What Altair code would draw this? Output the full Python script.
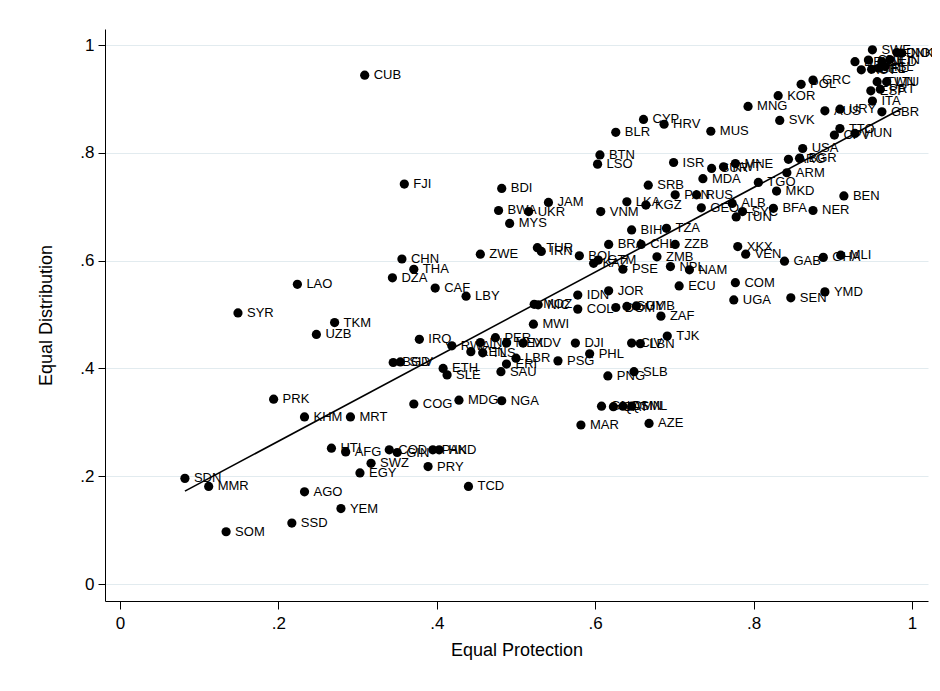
import altair as alt
import pandas as pd

codes = ["SWE","NOR","DNK","FIN","NLD","CHE","DEU","AUT","BEL","IRL","ISL","GRC","POL","TWN","LTU","ESP","PRT","ITA","GBR","URY","AUS","TTO","CPV","HUN","KOR","MNG","SVK","CUB","CYP","HRV","BLR","MUS","USA","BTN","LSO","ISR","SUR","KWT","MNE","ARG","BGR","ARM","MDA","TGO","MKD","SRB","PAN","RUS","BEN","NER","FJI","BDI","LKA","KGZ","GEO","ALB","SYC","TUN","BFA","JAM","BWA","UKR","VNM","MYS","BIH","TZA","BRA","CHL","ZZB","XKX","VEN","GAB","GHA","MLI","ZWE","TUR","IRN","BOL","KAZ","GTM","ZMB","NPL","NAM","PSE","CHN","THA","DZA","LAO","CAF","LBY","JOR","IDN","ECU","COM","UGA","SEN","YMD","SYR","MOZ","NIC","COL","DOM","GUY","GMB","ZAF","TKM","UZB","MWI","IRQ","RWA","KEN","IND","TLS","PER","MEX","MDV","TJK","DJI","CIV","LBN","BGD","SLV","ETH","SLE","ERI","LBR","SAU","PSG","PHL","PNG","SLB","PRK","KHM","MRT","COG","MDG","NGA","GNQ","QAT","OMN","SML","MAR","AZE","HTI","AFG","COD","GIN","PAK","HND","SWZ","PRY","EGY","SDN","MMR","TCD","AGO","YEM","SSD","SOM"]

protection = [0.950,0.987,0.981,0.972,0.962,0.945,0.928,0.936,0.949,0.958,0.966,0.875,0.860,0.956,0.968,0.948,0.960,0.950,0.962,0.909,0.890,0.909,0.902,0.928,0.831,0.793,0.833,0.309,0.661,0.687,0.626,0.746,0.862,0.606,0.603,0.699,0.747,0.762,0.777,0.844,0.858,0.842,0.736,0.806,0.829,0.667,0.701,0.728,0.914,0.875,0.359,0.482,0.640,0.664,0.734,0.773,0.786,0.778,0.825,0.541,0.478,0.516,0.607,0.492,0.646,0.690,0.617,0.658,0.701,0.780,0.790,0.839,0.888,0.910,0.455,0.527,0.532,0.580,0.598,0.604,0.678,0.695,0.719,0.635,0.356,0.371,0.344,0.224,0.398,0.437,0.617,0.578,0.706,0.777,0.775,0.847,0.890,0.149,0.523,0.528,0.578,0.626,0.640,0.652,0.683,0.271,0.248,0.522,0.378,0.419,0.443,0.455,0.458,0.474,0.488,0.509,0.691,0.575,0.646,0.657,0.345,0.354,0.408,0.413,0.488,0.500,0.481,0.553,0.593,0.616,0.649,0.194,0.233,0.291,0.371,0.428,0.482,0.608,0.623,0.635,0.646,0.582,0.668,0.267,0.285,0.340,0.350,0.395,0.403,0.317,0.389,0.303,0.082,0.112,0.440,0.233,0.279,0.217,0.134]

distribution = [0.991,0.985,0.986,0.973,0.969,0.972,0.969,0.954,0.955,0.957,0.960,0.935,0.927,0.932,0.932,0.915,0.918,0.896,0.876,0.881,0.878,0.845,0.833,0.836,0.906,0.886,0.860,0.944,0.862,0.853,0.838,0.840,0.808,0.796,0.779,0.782,0.771,0.774,0.780,0.788,0.790,0.763,0.752,0.745,0.729,0.740,0.722,0.722,0.720,0.693,0.742,0.734,0.709,0.703,0.698,0.706,0.691,0.681,0.697,0.708,0.693,0.691,0.691,0.669,0.657,0.660,0.630,0.630,0.630,0.626,0.612,0.599,0.606,0.610,0.612,0.624,0.617,0.609,0.595,0.601,0.607,0.589,0.583,0.584,0.603,0.584,0.568,0.556,0.549,0.534,0.544,0.536,0.553,0.559,0.527,0.531,0.542,0.503,0.519,0.518,0.510,0.513,0.515,0.516,0.497,0.485,0.463,0.482,0.454,0.442,0.431,0.448,0.429,0.457,0.447,0.447,0.460,0.447,0.447,0.446,0.411,0.412,0.400,0.388,0.408,0.419,0.394,0.414,0.427,0.386,0.394,0.343,0.310,0.310,0.334,0.341,0.340,0.330,0.329,0.330,0.330,0.295,0.298,0.252,0.245,0.249,0.244,0.249,0.249,0.224,0.218,0.206,0.196,0.181,0.181,0.171,0.140,0.113,0.097]

tick_values = [0, 0.2, 0.4, 0.6, 0.8, 1]
tick_labels = ["0", ".2", ".4", ".6", ".8", "1"]

df = pd.DataFrame({"code": codes, "x": protection, "y": distribution})

label_expr = " : ".join(
    [f"datum.value == {v} ? '{l}'" for v, l in zip(tick_values, tick_labels)]
) + " : ''"

FONT = "Liberation Sans"
xscale = alt.Scale(domain=[-0.0189, 1.0202], nice=False, zero=False)
yscale = alt.Scale(domain=[-0.0315, 1.0297], nice=False, zero=False)

xenc = alt.X("x:Q", scale=xscale, title="Equal Protection",
             axis=alt.Axis(values=tick_values, labelExpr=label_expr, grid=False,
                           tickSize=8, labelPadding=6, titlePadding=10))
yenc = alt.Y("y:Q", scale=yscale, title="Equal Distribution",
             axis=alt.Axis(values=tick_values, labelExpr=label_expr, grid=True,
                           gridColor="#e2ebef", gridWidth=1, tickSize=7,
                           labelAngle=0, titlePadding=24))

base = alt.Chart(df)

points = base.mark_circle(size=85, color="black", opacity=1).encode(x=xenc, y=yenc)

labels = base.mark_text(align="left", baseline="middle", dx=9, fontSize=13,
                        font=FONT, color="black").encode(x=xenc, y=yenc, text="code:N")

fit = base.transform_regression("x", "y").mark_line(color="black", strokeWidth=1.6).encode(
    x=xenc, y=yenc)

chart = alt.layer(points, fit, labels).properties(
    width=823, height=572,
    autosize=alt.AutoSizeParams(type="none"),
    padding={"left": 97, "top": 21, "right": 4, "bottom": 80},
    background="white",
).configure_view(stroke=None).configure_axis(
    domainColor="black", domainWidth=1, tickColor="black", tickWidth=1,
    labelFont=FONT, labelFontSize=17, labelColor="black", labelPadding=4,
    titleFont=FONT, titleFontSize=18, titleFontWeight="normal", titleColor="black",
)

chart.save("out.html", embed_options={"renderer": "svg", "actions": False})
